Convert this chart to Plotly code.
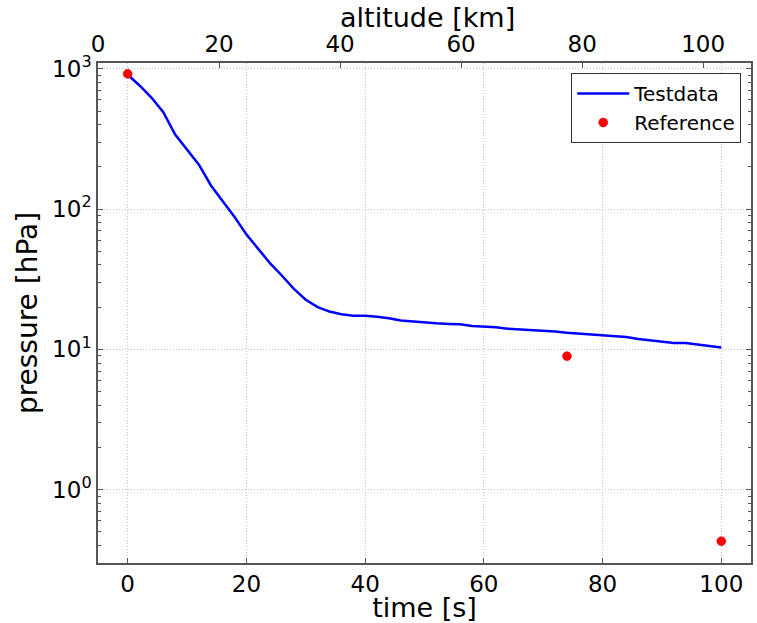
import plotly.graph_objects as go

# measured pressure profile
time_s = [0, 2, 4, 6, 8, 10, 12, 14, 16, 18, 20, 22, 24, 26, 28, 30, 32, 34,
          36, 38, 40, 42, 44, 46, 48, 50, 52, 54, 56, 58, 60, 62, 64, 66, 68,
          70, 72, 74, 76, 78, 80, 82, 84, 86, 88, 90, 92, 94, 96, 98, 100]
pressure_hpa = [906, 760, 624, 490, 340, 263, 207, 148, 115, 88, 66, 52.5,
                41, 33.5, 27, 22.6, 20, 18.6, 17.8, 17.4, 17.4, 17.1, 16.7,
                16.1, 15.8, 15.5, 15.35, 15.2, 15.1, 14.7, 14.55, 14.4, 14.05,
                13.9, 13.8, 13.7, 13.4, 13.15, 12.95, 12.75, 12.5, 12.4, 12.25,
                11.85, 11.55, 11.3, 11.1, 11.1, 10.85, 10.55, 10.3]

# reference points
ref_time = [0, 74, 100]
ref_pressure = [920, 8.95, 0.43]

# axis ticks
y_ticks = [1, 10, 100, 1000]
y_labels = ['10<sup>0</sup>', '10<sup>1</sup>', '10<sup>2</sup>', '10<sup>3</sup>']
alt_ticks = [0, 20, 40, 60, 80, 100]

font = 'DejaVu Sans'
spine = '#555555'
grid = '#c4c4c4'

fig = go.Figure()
fig.add_trace(go.Scatter(x=time_s, y=pressure_hpa, mode='lines', name='Testdata',
                         line=dict(color='#0000ff', width=2.5)))
fig.add_trace(go.Scatter(x=ref_time, y=ref_pressure, mode='markers', name='Reference',
                         marker=dict(color='#ff0000', size=9,
                                     line=dict(color='#cc0000', width=0.5))))
# invisible helper so the top altitude axis gets drawn
fig.add_trace(go.Scatter(x=alt_ticks, y=[None] * len(alt_ticks), xaxis='x2',
                         mode='markers', showlegend=False, hoverinfo='skip'))

fig.update_layout(
    width=757, height=623,
    margin=dict(l=98, r=6, t=63, b=60),
    paper_bgcolor='white', plot_bgcolor='white',
    font=dict(family=font, size=23, color='black'),
    showlegend=True,
    legend=dict(x=0.985, y=0.98, xanchor='right', yanchor='top',
                bgcolor='white', bordercolor='#333333', borderwidth=1,
                font=dict(size=20), tracegroupgap=0, itemwidth=52),
    xaxis=dict(
        range=[-5, 105], tickvals=alt_ticks, showline=True, linecolor=spine,
        linewidth=1.5, ticks='inside', ticklen=5, tickcolor=spine,
        showgrid=True, gridcolor=grid, griddash='1px,2px', gridwidth=1,
        zeroline=False, automargin=False,
        title=dict(text='time [s]', font=dict(size=27), standoff=0),
        tickfont=dict(size=23),
    ),
    xaxis2=dict(
        range=[0, 107.9], overlaying='x', side='top', anchor='y',
        tickvals=alt_ticks, showline=True, linecolor=spine, linewidth=1.5,
        ticks='inside', ticklen=5, tickcolor=spine, showgrid=False, zeroline=False,
        automargin=False, tickfont=dict(size=23),
    ),
    yaxis=dict(
        type='log', range=[-0.522, 3.041], tickvals=y_ticks, ticktext=y_labels,
        showline=True, linecolor=spine, linewidth=1.5, mirror='ticks',
        ticks='inside', ticklen=5, tickcolor=spine,
        minor=dict(ticks='inside', ticklen=3, tickcolor=spine, showgrid=False,
                   dtick='D1'),
        showgrid=True, gridcolor=grid, griddash='1px,2px', gridwidth=1,
        zeroline=False, automargin=False,
        title=dict(text='pressure [hPa]', font=dict(size=28), standoff=6),
        tickfont=dict(size=23),
    ),
    annotations=[dict(text='altitude [km]', xref='paper', yref='paper',
                      x=0.505, y=1.09, xanchor='center', yanchor='middle',
                      showarrow=False, font=dict(size=27))],
)

# drop the default body margin so the figure fills the window
fig.write_html("out.html", config={'displayModeBar': False},
               post_script="document.body.style.margin='0';")
